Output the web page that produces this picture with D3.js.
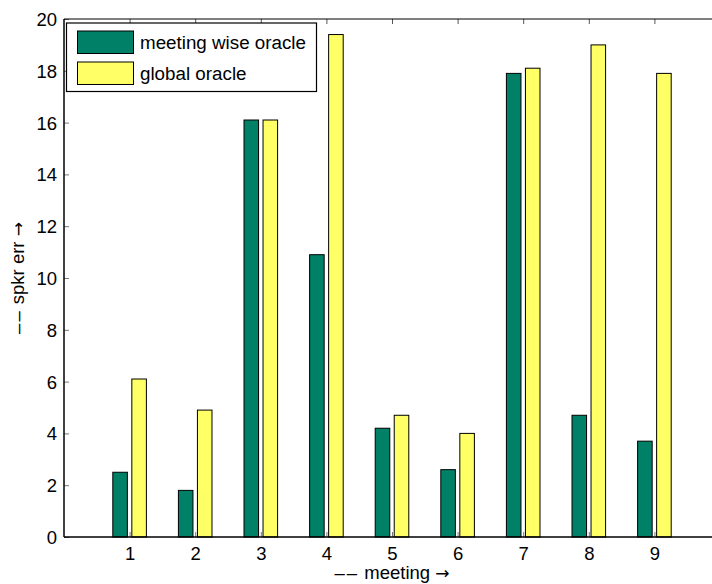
<!DOCTYPE html>
<html>
<head>
<meta charset="utf-8">
<script src="https://cdn.jsdelivr.net/npm/d3@7"></script>
<style>
  html, body { margin: 0; padding: 0; background: #fff; }
  svg { display: block; }
  text { font-family: "Liberation Sans", Arial, sans-serif; fill: #000; }
</style>
</head>
<body>
<svg id="chart" width="712" height="584"></svg>
<script>
const categories = [1, 2, 3, 4, 5, 6, 7, 8, 9];
const meetingWise = [2.5, 1.8, 16.1, 10.9, 4.2, 2.6, 17.9, 4.7, 3.7];
const globalOracle = [6.1, 4.9, 16.1, 19.4, 4.7, 4.0, 18.1, 19.0, 17.9];
const seriesNames = ["meeting wise oracle", "global oracle"];
const seriesColors = ["#008066", "#ffff66"];
const yTicks = [0, 2, 4, 6, 8, 10, 12, 14, 16, 18, 20];
const xLabelWord = "meeting";
const yLabelWord = "spkr err";

(function () {
const svg = d3.select("#chart");
const W = 712, H = 584;
const pLeft = 64, pRight = 720, pTop = 19, pBottom = 537;

const x = d3.scaleLinear().domain([0, 10]).range([pLeft, pRight]);
const y = d3.scaleLinear().domain([0, 20]).range([pBottom, pTop]);

const barW = 0.222;   // in x units
const off = 0.145;

const series = [meetingWise, globalOracle];
const g = svg.append("g");

series.forEach((vals, si) => {
  g.selectAll(null)
    .data(categories.map((c, i) => ({ c, v: vals[i] })))
    .enter().append("rect")
    .attr("x", d => x(d.c + (si === 0 ? -off : off) - barW / 2))
    .attr("width", d => x(barW) - x(0))
    .attr("y", d => y(d.v))
    .attr("height", d => y(0) - y(d.v))
    .attr("fill", seriesColors[si])
    .attr("stroke", "#000")
    .attr("stroke-width", 1);
});

const fontSize = "18.5px";

// bottom axis
const xAxis = d3.axisBottom(x).tickValues(categories).tickSize(-5).tickPadding(0).tickFormat(d3.format("d"));
const gx = svg.append("g").attr("transform", `translate(0,${pBottom})`).call(xAxis);
gx.select(".domain").remove();
gx.selectAll(".tick line").attr("stroke", "#777");
gx.selectAll(".tick text").attr("y", 23).attr("dy", 0).style("font-size", fontSize).style("font-family", "Liberation Sans, Arial, sans-serif");

// top axis ticks
const xTop = d3.axisTop(x).tickValues(categories).tickSize(-5).tickFormat("");
const gt = svg.append("g").attr("transform", `translate(0,${pTop})`).call(xTop);
gt.select(".domain").remove();
gt.selectAll(".tick line").attr("stroke", "#555");

// left axis
const yAxis = d3.axisLeft(y).tickValues(yTicks).tickSize(-5).tickPadding(7).tickFormat(d3.format("d"));
const gy = svg.append("g").attr("transform", `translate(${pLeft},0)`).call(yAxis);
gy.select(".domain").remove();
gy.selectAll(".tick line").attr("stroke", "#777");
gy.selectAll(".tick text").attr("dy", "0.35em").style("font-size", fontSize).style("font-family", "Liberation Sans, Arial, sans-serif");

// axis lines
svg.append("line").attr("x1", pLeft).attr("x2", W).attr("y1", pBottom).attr("y2", pBottom).attr("stroke", "#000").attr("stroke-width", 1.5);
svg.append("line").attr("x1", pLeft).attr("x2", W).attr("y1", pTop).attr("y2", pTop).attr("stroke", "#000").attr("stroke-width", 1.2);
svg.append("line").attr("x1", pLeft).attr("x2", pLeft).attr("y1", pTop).attr("y2", pBottom).attr("stroke", "#000").attr("stroke-width", 1.5);

function label(sel, word) {
  sel.append("tspan").style("letter-spacing", "2px").text("\u2013\u2013");
  sel.append("tspan").text(" " + word + " ");
  sel.append("tspan").style("font-family", "DejaVu Sans").style("font-size", "17px").text("\u2192");
}

// labels
label(svg.append("text").attr("x", 392).attr("y", 579).attr("text-anchor", "middle")
  .style("font-size", fontSize), xLabelWord);
label(svg.append("text").attr("transform", `translate(24,${(pTop + pBottom) / 2}) rotate(-90)`).attr("text-anchor", "middle")
  .style("font-size", fontSize), yLabelWord);

// legend
const lg = svg.append("g");
lg.append("rect").attr("x", 66.5).attr("y", 23).attr("width", 250).attr("height", 68.5)
  .attr("fill", "#fff").attr("stroke", "#000").attr("stroke-width", 1.2);
seriesNames.forEach((name, i) => {
  const yy = 31 + i * 31;
  lg.append("rect").attr("x", 77.5).attr("y", yy).attr("width", 56).attr("height", 22.5)
    .attr("fill", seriesColors[i]).attr("stroke", "#000").attr("stroke-width", 1);
  lg.append("text").attr("x", 140).attr("y", yy + 17.5).style("font-size", "18.8px").text(name);
});
})();
</script>
</body>
</html>
